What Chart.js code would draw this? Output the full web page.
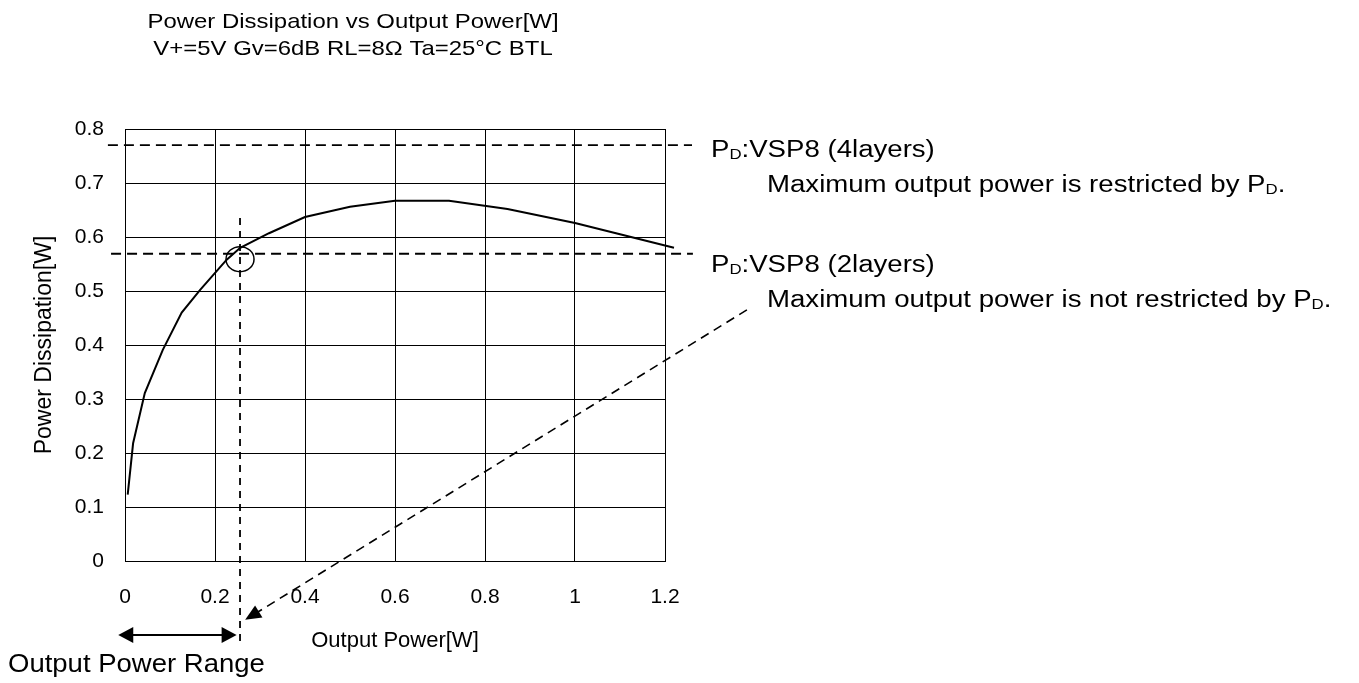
<!DOCTYPE html>
<html>
<head>
<meta charset="utf-8">
<script src="https://cdn.jsdelivr.net/npm/chart.js@4.4.0/dist/chart.umd.min.js"></script>
<style>
  html, body { margin: 0; padding: 0; background: #fff; }
  canvas { display: block; }
</style>
</head>
<body>
<canvas id="pdChart" width="1359" height="683"></canvas>
<script>
// curve: output power [W] vs power dissipation [W]
const outputPower = [0.006, 0.018, 0.044, 0.084, 0.126, 0.167, 0.226, 0.256, 0.32, 0.40, 0.50, 0.60, 0.72, 0.85, 1.00, 1.22];
const dissipation = [0.123, 0.218, 0.311, 0.391, 0.46, 0.502, 0.558, 0.58, 0.607, 0.637, 0.656, 0.667, 0.667, 0.652, 0.626, 0.58];

// PD limits: VSP8 4 layers, VSP8 2 layers
const pdLimits   = [0.77, 0.569];
const rangeLimit = 0.2556;

const xTicks = ['0', '0.2', '0.4', '0.6', '0.8', '1', '1.2'];
const yTicks = ['0', '0.1', '0.2', '0.3', '0.4', '0.5', '0.6', '0.7', '0.8'];

const titleLines = ['Power Dissipation vs Output Power[W]', 'V+=5V Gv=6dB RL=8\u03A9 Ta=25\u00B0C BTL'];

const FONT = '"Liberation Sans", Arial, Helvetica, sans-serif';
Chart.defaults.font.family = FONT;
Chart.defaults.color = '#000';

const pts = (xs, ys) => xs.map((x, i) => ({ x, y: ys[i] }));

// draw text stretched horizontally (reference glyphs are wide)
function wideText(ctx, txt, x, y, size, sx) {
    ctx.save();
    ctx.font = `${size}px ${FONT}`;
    const w = ctx.measureText(txt).width * sx;
    ctx.translate(x, y);
    ctx.scale(sx, 1);
    ctx.textAlign = 'left';
    ctx.textBaseline = 'alphabetic';
    ctx.fillText(txt, 0, 0);
    ctx.restore();
    return x + w;
}

// text with "P" + subscript "D" pieces
function pdText(ctx, parts, x, y, size, sx) {
    let cx = x;
    parts.forEach(p => {
        if (p.sub) cx = wideText(ctx, p.t, cx, y + 2, Math.round(size * 0.62), sx);
        else cx = wideText(ctx, p.t, cx, y, size, sx);
    });
}

function arrowHead(ctx, tx, ty, fx, fy, len, half) {
    const a = Math.atan2(ty - fy, tx - fx);
    ctx.beginPath();
    ctx.moveTo(tx, ty);
    ctx.lineTo(tx - len * Math.cos(a) + half * Math.sin(a), ty - len * Math.sin(a) - half * Math.cos(a));
    ctx.lineTo(tx - len * Math.cos(a) - half * Math.sin(a), ty - len * Math.sin(a) + half * Math.cos(a));
    ctx.closePath();
    ctx.fill();
}

const annotations = {
    id: 'annotations',
    afterDatasetsDraw(chart) {
        const { ctx, scales: { x, y } } = chart;
        ctx.save();
        ctx.fillStyle = '#000';
        ctx.strokeStyle = '#000';

        // title
        titleLines.forEach((t, i) => {
            ctx.font = `21px ${FONT}`;
            const w = ctx.measureText(t).width * 1.14;
            wideText(ctx, t, 353 - w / 2, i === 0 ? 28 : 55, 21, 1.14);
        });

        // circle at the crossing point
        ctx.lineWidth = 1.5;
        ctx.beginPath();
        ctx.ellipse(x.getPixelForValue(rangeLimit), y.getPixelForValue(0.559), 14, 12.5, 0, 0, Math.PI * 2);
        ctx.stroke();

        // dashed arrow from the 2 layers note to the range limit
        const sx = x.getPixelForValue(1.382), sy = y.getPixelForValue(0.465);
        const tx = x.getPixelForValue(0.267), ty = y.getPixelForValue(-0.109);
        const a = Math.atan2(ty - sy, tx - sx);
        ctx.lineWidth = 1.6;
        ctx.setLineDash([9, 6]);
        ctx.beginPath();
        ctx.moveTo(sx, sy);
        ctx.lineTo(tx - 12 * Math.cos(a), ty - 12 * Math.sin(a));
        ctx.stroke();
        ctx.setLineDash([]);
        arrowHead(ctx, tx, ty, sx, sy, 16, 7);

        // output power range double arrow
        const ry = y.getPixelForValue(-0.137);
        const r0 = x.getPixelForValue(-0.015), r1 = x.getPixelForValue(0.248);
        ctx.lineWidth = 2.2;
        ctx.beginPath();
        ctx.moveTo(r0 + 10, ry);
        ctx.lineTo(r1 - 10, ry);
        ctx.stroke();
        arrowHead(ctx, r0, ry, r1, ry, 15, 8);
        arrowHead(ctx, r1, ry, r0, ry, 15, 8);

        // notes
        pdText(ctx, [{ t: 'P' }, { t: 'D', sub: true }, { t: ':VSP8 (4layers)' }], 711, 157, 23, 1.2);
        pdText(ctx, [{ t: 'Maximum output power is restricted by P' }, { t: 'D', sub: true }, { t: '.' }], 767, 192, 23, 1.2);
        pdText(ctx, [{ t: 'P' }, { t: 'D', sub: true }, { t: ':VSP8 (2layers)' }], 711, 272, 23, 1.2);
        pdText(ctx, [{ t: 'Maximum output power is not restricted by P' }, { t: 'D', sub: true }, { t: '.' }], 767, 307, 23, 1.2);
        wideText(ctx, 'Output Power Range', 8, 672, 25, 1.1);

        ctx.restore();
    }
};

new Chart(document.getElementById('pdChart'), {
    type: 'scatter',
    data: {
        datasets: [
            {
                label: 'Power Dissipation',
                data: pts(outputPower, dissipation),
                showLine: true,
                borderColor: '#000',
                borderWidth: 2,
                pointRadius: 0,
                tension: 0,
                clip: false
            },
            {
                label: 'PD VSP8 4layers',
                data: [{ x: -0.038, y: pdLimits[0] }, { x: 1.26, y: pdLimits[0] }],
                showLine: true,
                borderColor: '#000',
                borderWidth: 1.8,
                borderDash: [10, 6],
                pointRadius: 0,
                clip: false
            },
            {
                label: 'PD VSP8 2layers',
                data: [{ x: -0.031, y: pdLimits[1] }, { x: 1.262, y: pdLimits[1] }],
                showLine: true,
                borderColor: '#000',
                borderWidth: 1.8,
                borderDash: [10, 6],
                pointRadius: 0,
                clip: false
            },
            {
                label: 'Range limit',
                data: [{ x: rangeLimit, y: 0.635 }, { x: rangeLimit, y: -0.156 }],
                showLine: true,
                borderColor: '#000',
                borderWidth: 1.8,
                borderDash: [7, 6],
                pointRadius: 0,
                clip: false
            }
        ]
    },
    options: {
        responsive: false,
        devicePixelRatio: 1,
        animation: false,
        layout: { padding: { left: 0, top: 129, right: 694, bottom: 29 } },
        plugins: { legend: { display: false }, tooltip: { enabled: false } },
        scales: {
            x: {
                type: 'linear',
                min: 0, max: 1.2,
                ticks: { stepSize: 0.2, padding: 24, font: { size: 21 }, color: '#000', callback: (v, i) => xTicks[i] },
                grid: { color: '#000', lineWidth: 1, drawTicks: false },
                border: { display: true, color: '#000', width: 1 },
                title: { display: true, text: 'Output Power[W]', font: { size: 22 }, color: '#000', padding: { top: 0, bottom: 0 } },
                afterFit: s => { s.height = 93; }
            },
            y: {
                type: 'linear',
                min: 0, max: 0.8,
                ticks: { stepSize: 0.1, padding: 21, font: { size: 21 }, color: '#000', callback: (v, i) => yTicks[i] },
                grid: { color: '#000', lineWidth: 1, drawTicks: false },
                border: { display: true, color: '#000', width: 1 },
                title: { display: true, text: 'Power Dissipation[W]', font: { size: 23 }, color: '#000', padding: { top: 31, bottom: 0 } },
                afterFit: s => { s.width = 125; }
            }
        }
    },
    plugins: [annotations]
});
</script>
</body>
</html>
